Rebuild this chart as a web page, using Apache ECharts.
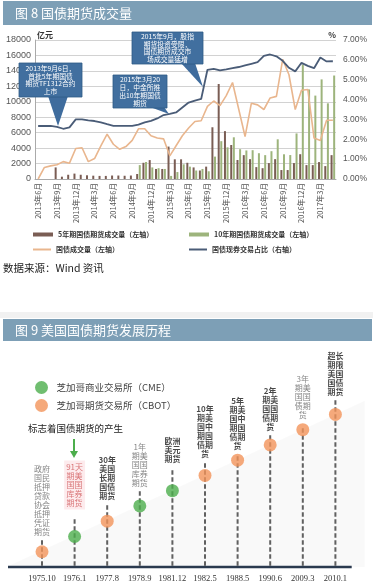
<!DOCTYPE html>
<html><head><meta charset="utf-8">
<script src="https://cdn.jsdelivr.net/npm/echarts@6/dist/echarts.min.js"></script>
<style>html,body{margin:0;padding:0;background:#fff;}#c{width:373px;height:588px;}</style>
</head><body><div id="c"></div>
<script>
// ---------- Figure 8 data ----------
const months = ['2013年6月','2013年7月','2013年8月','2013年9月','2013年10月','2013年11月','2013年12月',
  '2014年1月','2014年2月','2014年3月','2014年4月','2014年5月','2014年6月','2014年7月','2014年8月','2014年9月','2014年10月','2014年11月','2014年12月',
  '2015年1月','2015年2月','2015年3月','2015年4月','2015年5月','2015年6月','2015年7月','2015年8月','2015年9月','2015年10月','2015年11月','2015年12月',
  '2016年1月','2016年2月','2016年3月','2016年4月','2016年5月','2016年6月','2016年7月','2016年8月','2016年9月','2016年10月','2016年11月','2016年12月',
  '2017年1月','2017年2月','2017年3月','2017年4月','2017年5月'];
const bond5Volume = [null,null,null,1500,300,550,700,550,480,430,400,400,450,450,420,450,650,2100,2450,1300,1300,4200,2550,2550,
  2100,1500,1100,1600,6700,12300,6200,4400,2460,3090,2570,1540,1400,2060,2570,1160,1160,2060,3210,1800,1800,2190,1670,3090];
const bond10Volume = [null,null,null,null,null,null,null,null,null,null,null,null,null,null,null,null,1800,2200,1500,1400,1300,400,900,1900,
  1600,1100,1300,1000,2900,4900,4100,5400,3860,3700,3730,3340,3090,3600,5140,3200,3100,5900,14800,11600,10800,12900,9800,13400];
const bondTurnover = [0,1500,1700,1850,2250,2050,3950,4050,2250,2650,4300,5800,4500,3850,4200,5000,6500,6500,5600,5300,5200,3000,4300,5600,
  6600,7450,7550,9400,10100,9500,10800,12500,9000,5500,9800,9600,9000,10500,10700,15500,13500,9000,11500,11600,5300,5000,7600,7600];
const spotSharePct = [2.67,2.67,2.67,2.63,2.53,2.6,3.0,3.0,2.95,2.92,2.85,2.76,2.68,2.68,2.68,2.68,2.74,2.85,2.93,3.05,3.22,3.28,3.35,3.6,
  3.85,3.95,4.03,5.5,5.55,5.47,5.52,5.58,5.64,5.72,5.8,5.88,6.2,6.27,6.18,5.95,5.6,5.42,5.85,5.7,5.58,6.12,5.92,5.93];
const seriesNames = ['5年期国债期货成交量（左轴）','10年期国债期货成交量（左轴）','国债成交量（左轴）','国债现券交易占比（右轴）'];

// ---------- Figure 9 data ----------
const eventDates = ['1975.10','1976.1','1977.8','1978.9','1981.12','1982.5','1988.5','1990.6','2009.3','2010.1'];
const eventNames = ['政府国民抵押贷款协会抵押凭证期货','91天期美国国库券期货','30年美国长期国债期货','1年期美国国库券期货','欧洲美元期货',
  '10年期美国中期国债期货','5年期美国中期国债期货','2年期美国国债期货','3年期美国国债期货','超长期限美国国债期货'];
const eventExchange = ['CBOT','CME','CBOT','CME','CME','CBOT','CBOT','CBOT','CBOT','CBOT'];
const exchangeNames = {CME:'芝加哥商业交易所（CME）', CBOT:'芝加哥期货交易所（CBOT）'};

// ---------- layout / style ----------
const FONT = '"Noto Sans CJK SC", sans-serif';
const labelGap = [15,27,21,19,27,17,10,13,10,18];
const labelKind = ['gray','red','bold','gray','bold','bold','bold','bold','gray','bold'];
const kindStyle = {
  gray:{color:'#666', fontWeight:'normal'},
  red:{color:'#d0575a', fontWeight:'normal', backgroundColor:'#fde6e8', padding:[2,2]},
  bold:{color:'#1a1a1a', fontWeight:'bold'}
};
const PX_PER_STEP = 15.26;   // timeline: pixels per unit on the hidden y scale
function stack(name){
  const t = name.match(/\d+|./g); const out=[];
  for(let i=0;i<t.length;i+=2) out.push(t.slice(i,i+2).join(''));
  return out.join('\n');
}
function dotItem(i){
  return {value:[i, i+1], label:Object.assign({show:true, position:'top', distance:labelGap[i]-6.5,
    formatter:stack(eventNames[i]), fontSize:8, lineHeight:9, align:'center', fontFamily:FONT}, kindStyle[labelKind[i]])};
}
// dashes of each drop line, as points on the timeline scale (every 7px, 4.5px long)
const dashPoints = [];
eventDates.forEach((d,i)=>{
  const top = i + 1 + (labelGap[i] - 3) / PX_PER_STEP;
  for(let c = 3.5; c / PX_PER_STEP + 2.25 / PX_PER_STEP < top; c += 7){
    dashPoints.push([i, c / PX_PER_STEP]);
  }
});
function callout(x,y,w,h,lines,tri){
  return {type:'group', children:[
    {type:'polygon', shape:{points:tri}, style:{fill:'#3f6c9d'}, z:100},
    {type:'rect', shape:{x:x,y:y,width:w,height:h}, style:{fill:'#416f9f', stroke:'#2f5a86', lineWidth:0.8}, z:100},
    {type:'text', style:{x:x+w/2, y:y+h/2, text:lines.join('\n'), fill:'#fff', fontSize:6.8, lineHeight:7.8,
      align:'center', verticalAlign:'middle', fontFamily:FONT}, z:101}
  ]};
}

const chart = echarts.init(document.getElementById('c'), null, {renderer:'canvas'});
const option = {
  animation:false,
  textStyle:{fontFamily:FONT},
  graphic:[
    {type:'rect', shape:{x:3,y:1,width:369,height:24}, style:{fill:'#7d9fb6'}},
    {type:'text', style:{x:15,y:13,text:'图 8 国债期货成交量', fill:'#fff', fontSize:13, verticalAlign:'middle', fontFamily:FONT}},
    {type:'text', style:{x:3,y:268,text:'数据来源：Wind 资讯', fill:'#222', fontSize:10.5, verticalAlign:'middle', fontFamily:FONT}},
    {type:'rect', shape:{x:0,y:312,width:373,height:6}, style:{fill:'#f1f1f1'}},
    {type:'rect', shape:{x:3,y:319,width:369,height:22}, style:{fill:'#7d9fb6'}},
    {type:'text', style:{x:15,y:330,text:'图 9 美国国债期货发展历程', fill:'#fff', fontSize:13, verticalAlign:'middle', fontFamily:FONT}},
    {type:'text', style:{x:28,y:428,text:'标志着国债期货的产生', fill:'#222', fontSize:9.5, verticalAlign:'middle', fontFamily:FONT}},
    {type:'line', shape:{x1:74,y1:439,x2:74,y2:452}, style:{stroke:'#4cae4c', lineWidth:2}},
    {type:'polygon', shape:{points:[[70,451],[78,451],[74,458]]}, style:{fill:'#4cae4c'}},
    callout(19,63,63,34,['2013年9月6日，','首批5年期国债','期货TF1312合约','上市'],[[48,96],[68,96],[58,126]]),
    callout(113,75,54,33,['2015年3月20','日，中金所推','出10年期国债','期货'],[[150,107],[164,107],[169,114]]),
    callout(132,32,71,32,['2015年9月，股指','期货投资受限，','国债期货成交市','场成交量猛增'],[[181,63],[195,63],[203,87]])
  ],
  legend:[
    {data:[seriesNames[0]], left:33, top:231, padding:0, itemWidth:20, itemHeight:4, icon:'rect',
      textStyle:{fontSize:7, fontWeight:'bold', color:'#333', fontFamily:FONT}},
    {data:[seriesNames[1]], left:189, top:231, padding:0, itemWidth:20, itemHeight:4, icon:'rect',
      textStyle:{fontSize:7, fontWeight:'bold', color:'#333', fontFamily:FONT}},
    {data:[seriesNames[2]], left:33, top:246, padding:0, itemWidth:18, itemHeight:2, icon:'rect',
      textStyle:{fontSize:7, fontWeight:'bold', color:'#333', fontFamily:FONT}},
    {data:[seriesNames[3]], left:189, top:246, padding:0, itemWidth:18, itemHeight:2, icon:'rect',
      textStyle:{fontSize:7, fontWeight:'bold', color:'#333', fontFamily:FONT}},
    {data:[exchangeNames.CME, exchangeNames.CBOT], orient:'vertical', left:35, top:381, padding:0, itemGap:5,
      itemWidth:14, itemHeight:13, icon:'circle', textStyle:{fontSize:9.5, color:'#444', padding:[0,0,0,3], fontFamily:FONT}}
  ],
  grid:[
    {left:35, right:37, top:40, height:139},
    {left:9.4, right:5, top:368.6, height:198.4}
  ],
  xAxis:[
    {type:'category', gridIndex:0, data:months, boundaryGap:true,
      axisLine:{lineStyle:{color:'#aaa'}}, axisTick:{show:false},
      axisLabel:{interval:2, rotate:90, fontSize:7.5, color:'#555', margin:4}},
    {type:'value', gridIndex:1, min:-1, max:10, interval:1,
      axisLine:{show:false}, axisTick:{show:false}, splitLine:{show:false},
      axisLabel:{formatter:v=>eventDates[v]||'', fontFamily:'"Liberation Serif", serif', fontSize:8.5, color:'#333', margin:7}}
  ],
  yAxis:[
    {type:'value', gridIndex:0, min:0, max:18000, interval:2000, name:'亿元', nameLocation:'end', nameGap:1,
      nameTextStyle:{align:'left', verticalAlign:'bottom', fontSize:8, fontWeight:'bold', color:'#333', padding:[0,0,0,2]},
      axisLine:{show:true, lineStyle:{color:'#aaa'}}, axisTick:{show:false},
      axisLabel:{formatter:v=>String(v), fontSize:9, color:'#555', margin:4, fontFamily:'"Liberation Sans", sans-serif'},
      splitLine:{lineStyle:{color:'#d2d2d2'}}},
    {type:'value', gridIndex:0, position:'right', min:0, max:7, interval:1, name:'%', nameLocation:'end', nameGap:1,
      nameTextStyle:{align:'right', verticalAlign:'bottom', fontSize:8, fontWeight:'bold', color:'#333'},
      axisLine:{show:false}, axisTick:{show:false}, splitLine:{show:false},
      axisLabel:{formatter:v=>v.toFixed(2)+'%', fontSize:8.5, color:'#555', margin:7, fontFamily:'"Liberation Sans", sans-serif'}},
    {type:'value', gridIndex:1, min:0, max:13, interval:1, show:false}
  ],
  series:[
    {name:seriesNames[0], type:'bar', xAxisIndex:0, yAxisIndex:0, data:bond5Volume, barWidth:2, barGap:'30%',
      itemStyle:{color:'#7a5d54'}, z:2},
    {name:seriesNames[1], type:'bar', xAxisIndex:0, yAxisIndex:0, data:bond10Volume, barWidth:2, barGap:'30%',
      itemStyle:{color:'#9db47c'}, z:2},
    {name:seriesNames[2], type:'line', xAxisIndex:0, yAxisIndex:0, data:bondTurnover, symbol:'none',
      lineStyle:{color:'#e9b68e', width:1.6}, itemStyle:{color:'#e9b68e'}, z:3},
    {name:seriesNames[3], type:'line', xAxisIndex:0, yAxisIndex:1, data:spotSharePct, symbol:'none',
      lineStyle:{color:'#4a5c77', width:1.8}, itemStyle:{color:'#4a5c77'}, z:4},
    {type:'line', xAxisIndex:1, yAxisIndex:2, data:[[-1.1,0],[9.9,10.9]], symbol:'none', clip:false,
      lineStyle:{width:0}, areaStyle:{color:'rgba(0,0,0,0.035)'}, silent:true, z:1},
    {type:'line', xAxisIndex:1, yAxisIndex:2, data:[[-1.14,0],[9.5,0]], symbol:'none', clip:false,
      lineStyle:{color:'#2b3a4f', width:2.5}, silent:true, z:3},
    {type:'line', xAxisIndex:1, yAxisIndex:2, data:[], symbol:'none', silent:true, z:4,
      markLine:{silent:true, symbol:['none','arrow'], symbolSize:[10,12], label:{show:false}, animation:false,
        lineStyle:{color:'#2b3a4f', width:3, type:'solid'},
        data:[[{coord:[-1.1,0]},{coord:[9.9,10.9]}]]}},
    // dashed drop lines, drawn as short rect marks on the timeline scale
    {type:'scatter', xAxisIndex:1, yAxisIndex:2, data:dashPoints, symbol:'rect', symbolSize:[2,4.5],
      itemStyle:{color:'#3a3a3a'}, silent:true, z:6},
    {name:exchangeNames.CME, type:'scatter', xAxisIndex:1, yAxisIndex:2, symbolSize:13, z:7,
      itemStyle:{color:'#4cae4c'},
      data: eventExchange.map((e,i)=>e==='CME'?dotItem(i):null).filter(Boolean)},
    {name:exchangeNames.CBOT, type:'scatter', xAxisIndex:1, yAxisIndex:2, symbolSize:13, z:7,
      itemStyle:{color:'#f2945a'},
      data: eventExchange.map((e,i)=>e==='CBOT'?dotItem(i):null).filter(Boolean)}
  ]
};
chart.setOption(option);
</script></body></html>
